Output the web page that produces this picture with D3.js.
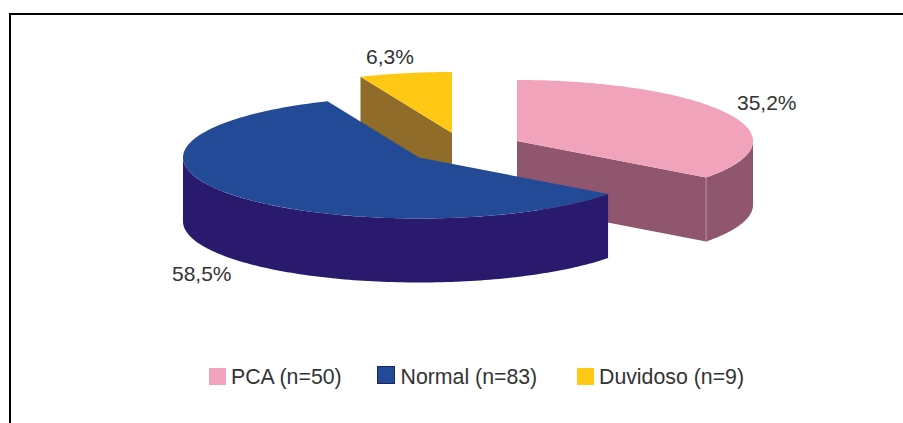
<!DOCTYPE html>
<html><head><meta charset="utf-8">
<script src="https://cdn.jsdelivr.net/npm/d3@7"></script>
<style>html,body{margin:0;padding:0;background:#fff}svg{display:block}text{font-family:"Liberation Sans",Arial,sans-serif;fill:#333}</style>
</head><body><svg id="c" width="903" height="423"></svg>
<script>
const categories = ["PCA (n=50)", "Normal (n=83)", "Duvidoso (n=9)"];
const counts = [50, 83, 9];
const percentLabels = ["35,2%", "58,5%", "6,3%"];
const topColors = ["#F0A3BA", "#234A96", "#FFC814"];
const sideColors = ["#8F566E", "#291A6E", "#8F6C2A"];

const svg = d3.select("#c");
const rx = 236, ry = 61, depth = 64;
// slice apex after the "explode" offset
const apex = [[517, 141], [419, 157.5], [452, 133]];
const labelPos = [[737, 110], [172, 281], [366, 63.5]];
const swatchX = [209, 377.5, 577];
const swatchY = [368, 366.5, 368];
const legendTextX = [231, 400.5, 599];

const slices = d3.pie().sort(null).value(d => d)(counts);
const pt = (i, a, dy = 0) => [apex[i][0] + rx * Math.sin(a), apex[i][1] - ry * Math.cos(a) + dy];
const arcPts = (i, a0, a1, dy = 0) => d3.range(0, 121).map(k => pt(i, a0 + (a1 - a0) * k / 120, dy));
const line = d3.line();

// frame: only the top and left rules are visible
svg.append("path").attr("d", "M10,423V14H903").attr("fill", "none").attr("stroke", "#000").attr("stroke-width", 2);

function side(i, col) {
  const s = slices[i];
  const a0 = Math.max(s.startAngle, Math.PI / 2), a1 = Math.min(s.endAngle, 3 * Math.PI / 2);
  if (a1 > a0) {
    const top = arcPts(i, a0, a1), bot = arcPts(i, a0, a1, depth).reverse();
    svg.append("path").attr("d", line(top.concat(bot)) + "Z").attr("fill", col);
  }
}
function radialWall(i, a) {
  const p = pt(i, a);
  const q = [[apex[i][0], apex[i][1]], p, [p[0], p[1] + depth], [apex[i][0], apex[i][1] + depth]];
  svg.append("path").attr("d", line(q) + "Z").attr("fill", sideColors[i]);
}
function topFace(i) {
  const s = slices[i];
  svg.append("path").attr("d", line([apex[i]].concat(arcPts(i, s.startAngle, s.endAngle))) + "Z")
    .attr("fill", topColors[i]);
}

// back to front: yellow, pink, blue
radialWall(2, slices[2].startAngle);
topFace(2);
radialWall(0, slices[0].endAngle);
side(0, sideColors[0]);
topFace(0);
const e = pt(0, slices[0].endAngle);
svg.append("line").attr("x1", e[0]).attr("y1", e[1]).attr("x2", e[0]).attr("y2", e[1] + depth)
  .attr("stroke", "#B88A9C").attr("stroke-width", 1);
side(1, sideColors[1]);
topFace(1);

percentLabels.forEach((t, i) => svg.append("text").attr("x", labelPos[i][0]).attr("y", labelPos[i][1])
  .attr("font-size", 21).text(t));

categories.forEach((t, i) => {
  svg.append("rect").attr("x", swatchX[i]).attr("y", swatchY[i]).attr("width", 17).attr("height", 17)
    .attr("fill", topColors[i]).attr("stroke", i === 1 ? "#1a2a60" : "none").attr("stroke-width", i === 1 ? 1 : 0);
  svg.append("text").attr("x", legendTextX[i]).attr("y", 383.5).attr("font-size", 21.3).text(t);
});
</script></body></html>
